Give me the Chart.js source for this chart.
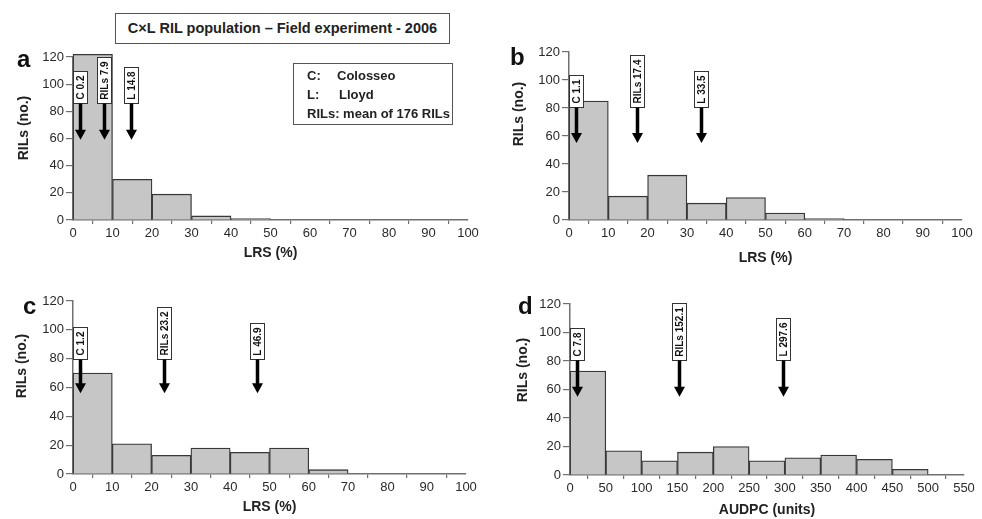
<!DOCTYPE html>
<html>
<head>
<meta charset="utf-8">
<script src="https://cdn.jsdelivr.net/npm/chart.js@4.4.1/dist/chart.umd.min.js"></script>
<style>
  html, body { margin: 0; padding: 0; background: #fff; }
  body { width: 982px; height: 519px; position: relative; overflow: hidden;
         font-family: "Liberation Sans", Arial, sans-serif; color: #222; }
  canvas { position: absolute; }
  .letter { position: absolute; font-weight: bold; font-size: 24px; line-height: 1; color: #111; }
  .ytitle { position: absolute; font-weight: bold; font-size: 14px; white-space: nowrap;
            transform: translate(-50%, -50%) rotate(-90deg); color: #222; }
  #title { position: absolute; left: 115px; top: 13px; width: 333px; height: 29px;
           border: 1px solid #555; font-weight: bold; font-size: 14.5px; line-height: 29px;
           text-align: center; color: #222; }
  #legend { position: absolute; left: 293px; top: 63px; width: 158px; height: 60px;
            border: 1px solid #555; font-weight: bold; font-size: 13px; color: #222; }
  #legend div { position: absolute; left: 13px; white-space: nowrap; }
  #legend span { position: absolute; }
</style>
</head>
<body>
<div id="title">C×L RIL population – Field experiment - 2006</div>

<canvas id="chartA" width="491" height="270" style="left:0;top:0"></canvas>
<canvas id="chartB" width="491" height="270" style="left:491px;top:0"></canvas>
<canvas id="chartC" width="491" height="259" style="left:0;top:260px"></canvas>
<canvas id="chartD" width="491" height="259" style="left:491px;top:260px"></canvas>

<div id="legend">
  <div style="top:4px">C:<span style="left:30px">Colosseo</span></div>
  <div style="top:23px">L:<span style="left:32px">Lloyd</span></div>
  <div style="top:42px">RILs: mean of 176 RILs</div>
</div>

<div class="letter" style="left:17px;top:47px">a</div>
<div class="letter" style="left:510px;top:45px">b</div>
<div class="letter" style="left:23px;top:294px">c</div>
<div class="letter" style="left:518px;top:294px">d</div>

<div class="ytitle" style="left:23px;top:128px">RILs (no.)</div>
<div class="ytitle" style="left:518px;top:114px">RILs (no.)</div>
<div class="ytitle" style="left:21px;top:366px">RILs (no.)</div>
<div class="ytitle" style="left:522px;top:370px">RILs (no.)</div>

<script>
// ── Datos ─────────────────────────────────────────────────────
const yTicks = [0, 20, 40, 60, 80, 100, 120];

// (a) LRS 2006, bins de 10 %
const binsA   = [5, 15, 25, 35, 45];
const countsA = [122, 30, 19, 3, 1];
const markNamesA  = ['C', 'RILs', 'L'];
const markValuesA = [0.2, 7.9, 14.8];

// (b)
const binsB   = [5, 15, 25, 35, 45, 55, 65];
const countsB = [85, 17, 32, 12, 16, 5, 1];
const markNamesB  = ['C', 'RILs', 'L'];
const markValuesB = [1.1, 17.4, 33.5];

// (c)
const binsC   = [5, 15, 25, 35, 45, 55, 65];
const countsC = [70, 21, 13, 18, 15, 18, 3];
const markNamesC  = ['C', 'RILs', 'L'];
const markValuesC = [1.2, 23.2, 46.9];

// (d) AUDPC, bins de 50 unidades
const binsD   = [25, 75, 125, 175, 225, 275, 325, 375, 425, 475];
const countsD = [73, 17, 10, 16, 20, 10, 12, 14, 11, 4];
const markNamesD  = ['C', 'RILs', 'L'];
const markValuesD = [7.8, 152.1, 297.6];

// ── Estilos ───────────────────────────────────────────────────
const FONT   = '"Liberation Sans", Arial, sans-serif';
const AXIS   = '#707070';
const BAR    = '#c6c6c6';
const EDGE   = '#383838';

// ── Plugin: flechas con etiqueta vertical ─────────────────────
const arrowPlugin = {
  id: 'arrows',
  afterDatasetsDraw(chart, args, opts) {
    const { ctx, chartArea, scales: { x, y } } = chart;
    ctx.save();
    ctx.font = 'bold 10px ' + FONT;
    opts.names.forEach((name, i) => {
      const v = opts.values[i];
      const label = name + ' ' + v.toFixed(1);
      const px = Math.round(Math.max(x.getPixelForValue(v), chartArea.left + 7)) + 0.5;
      const base = Math.round(y.getPixelForValue(opts.boxBase)) + 0.5;
      const tip  = y.getPixelForValue(opts.tip);
      const tw = ctx.measureText(label).width;
      const h = Math.round(tw + 8), w = 14;

      // caja
      ctx.fillStyle = '#fff';
      ctx.strokeStyle = '#333';
      ctx.lineWidth = 1;
      ctx.fillRect(px - w / 2, base - h, w, h);
      ctx.strokeRect(px - w / 2, base - h, w, h);

      // texto rotado
      ctx.save();
      ctx.translate(px, base - h / 2);
      ctx.rotate(-Math.PI / 2);
      ctx.fillStyle = '#111';
      ctx.textAlign = 'center';
      ctx.textBaseline = 'middle';
      ctx.fillText(label, 0, 0.5);
      ctx.restore();

      // flecha
      ctx.fillStyle = '#000';
      ctx.fillRect(px - 1.75, base, 3.5, tip - base - 8);
      ctx.beginPath();
      ctx.moveTo(px - 5.5, tip - 10);
      ctx.lineTo(px + 5.5, tip - 10);
      ctx.lineTo(px, tip);
      ctx.closePath();
      ctx.fill();
    });
    ctx.restore();
  },
};

// ── Constructor de panel ─────────────────────────────────────
function makePanel(id, bins, counts, names, values, cfg) {
  const ctx = document.getElementById(id).getContext('2d');
  return new Chart(ctx, {
    type: 'bar',
    data: {
      datasets: [{
        data: bins.map((b, i) => ({ x: b, y: counts[i] })),
        backgroundColor: BAR,
        borderColor: EDGE,
        borderWidth: 1.3,
        borderSkipped: 'start',
        barPercentage: 1,
        categoryPercentage: 1,
        clip: false,
      }],
    },
    options: {
      responsive: false,
      animation: false,
      events: [],
      layout: { padding: { left: 0, top: cfg.top, right: cfg.right, bottom: 0 } },
      plugins: {
        legend: { display: false },
        tooltip: { enabled: false },
        arrows: { names, values, boxBase: cfg.boxBase, tip: cfg.tip },
      },
      scales: {
        x: {
          type: 'linear',
          min: 0, max: cfg.xMax,
          offset: false,
          ticks: { stepSize: cfg.xStep, color: '#2a2a2a', font: { family: FONT, size: 13 }, padding: 2, maxRotation: 0, autoSkip: false },
          grid: { drawOnChartArea: false, drawTicks: true, tickLength: 4, color: AXIS, lineWidth: 1.2 },
          border: { color: AXIS, width: 1.5 },
          title: { display: true, text: cfg.xTitle, color: '#222', font: { family: FONT, size: 14, weight: 'bold', lineHeight: 1 }, padding: { top: 0, bottom: cfg.titlePad } },
          afterFit: s => { s.height = cfg.xHeight; s.paddingLeft = 0; s.paddingRight = 0; },
        },
        y: {
          min: 0, max: 120,
          afterBuildTicks: s => { s.ticks = yTicks.map(v => ({ value: v })); },
          ticks: { color: '#2a2a2a', font: { family: FONT, size: 13 }, padding: 2 },
          grid: { drawOnChartArea: false, drawTicks: true, tickLength: 7, color: AXIS, lineWidth: 1.2 },
          border: { color: AXIS, width: 1.5 },
          afterFit: s => { s.width = cfg.left; s.paddingTop = 0; s.paddingBottom = 0; },
        },
      },
    },
    plugins: [arrowPlugin],
  });
}

makePanel('chartA', binsA, countsA, markNamesA, markValuesA,
  { left: 73, top: 57, right: 23, xHeight: 50, xMax: 100, xStep: 10, xTitle: 'LRS (%)', titlePad: 10, boxBase: 86, tip: 59 });
makePanel('chartB', binsB, countsB, markNamesB, markValuesB,
  { left: 78, top: 52, right: 20, xHeight: 50, xMax: 100, xStep: 10, xTitle: 'LRS (%)', titlePad: 5, boxBase: 81, tip: 55 });
makePanel('chartC', binsC, countsC, markNamesC, markValuesC,
  { left: 73, top: 41, right: 25, xHeight: 45, xMax: 100, xStep: 10, xTitle: 'LRS (%)', titlePad: 5, boxBase: 80, tip: 56 });
makePanel('chartD', binsD, countsD, markNamesD, markValuesD,
  { left: 79, top: 44, right: 18, xHeight: 44, xMax: 550, xStep: 50, xTitle: 'AUDPC (units)', titlePad: 2, boxBase: 81, tip: 55 });
</script>
</body>
</html>
